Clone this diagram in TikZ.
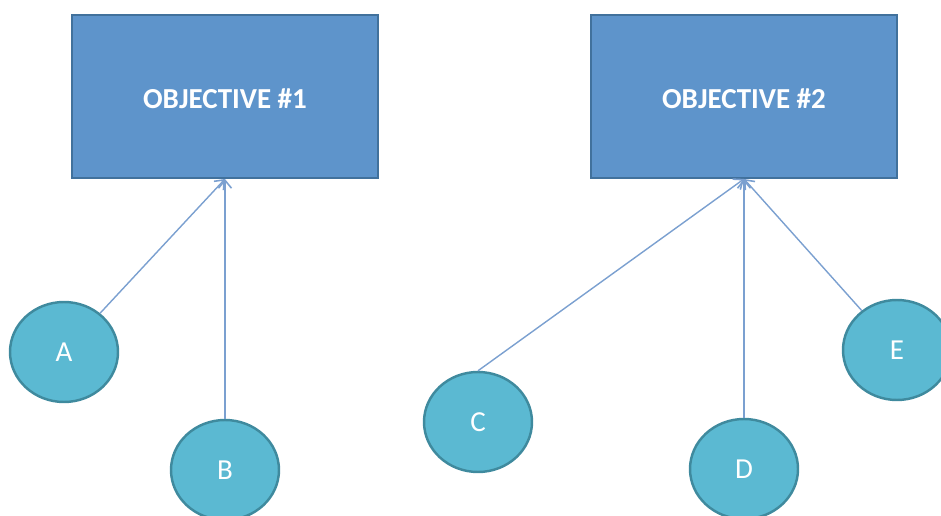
\documentclass[tikz,border=0pt]{standalone}
\usepackage{fontspec}
\setsansfont{Carlito}
\usetikzlibrary{shapes.geometric,arrows.meta}
\definecolor{objfill}{HTML}{5E94CB}
\definecolor{objedge}{HTML}{41719C}
\definecolor{itemfill}{HTML}{5BB9D2}
\definecolor{itemedge}{HTML}{3F8A9E}
\definecolor{linkblue}{HTML}{7BA0D0}

\begin{document}
\begin{tikzpicture}[
    every node/.style={font=\sffamily},
    objective/.style={
        draw=objedge,
        line width=1.1pt,
        fill=objfill,
        minimum width=6.12cm,
        minimum height=3.26cm,
        text height=0.5cm,
        text=white,
        font=\sffamily\bfseries\fontsize{16.5}{20}\selectfont
    },
    item/.style={
        ellipse,
        draw=itemedge,
        line width=1.4pt,
        fill=itemfill,
        minimum width=2.16cm,
        minimum height=2.0cm,
        inner sep=0pt,
        text=white,
        font=\sffamily\fontsize{16.5}{20}\selectfont
    },
    link/.style={
        -{Straight Barb[length=1.6mm,width=2.6mm,line width=0.9pt]},
        line width=0.8pt,
        linkblue
    }
]

\useasboundingbox (0,0) rectangle (18.82,10.3);

\node[objective] (obj1) at (4.50,8.37) {OBJECTIVE \#1};
\node[objective] (obj2) at (14.88,8.37) {OBJECTIVE \#2};

\node[item] (a) at (1.28,3.26) {A};
\node[item] (b) at (4.50,0.90) {B};
\node[item] (c) at (9.56,1.86) {C};
\node[item] (d) at (14.88,0.92) {D};
\node[item] (e) at (17.94,3.30) {E};

\draw[link] (a) -- (obj1.south);
\draw[link] (b) -- (obj1.south);

\draw[link] (c.north) -- (obj2.south);
\draw[link] (d) -- (obj2.south);
\draw[link] (e) -- (obj2.south);

\end{tikzpicture}
\end{document}
